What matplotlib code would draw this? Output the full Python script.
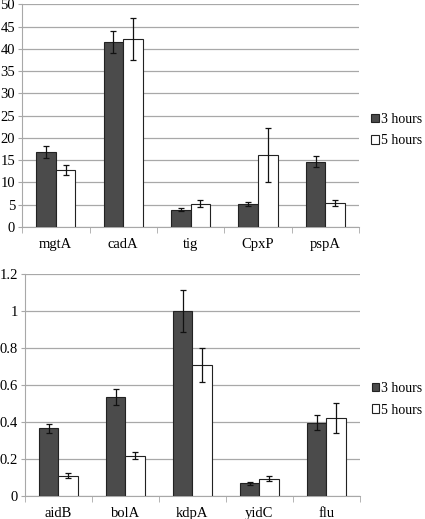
import matplotlib
matplotlib.use("Agg")
import matplotlib.pyplot as plt
from matplotlib.patches import Patch
import numpy as np

# data
genes_top = ["mgtA", "cadA", "tig", "CpxP", "pspA"]
h3_top = [16.9, 41.5, 3.9, 5.2, 14.7]
h3_top_err = [1.3, 2.5, 0.4, 0.5, 1.3]
h5_top = [12.8, 42.2, 5.2, 16.2, 5.4]
h5_top_err = [1.2, 4.8, 0.8, 6.0, 0.6]

genes_bot = ["aidB", "bolA", "kdpA", "yidC", "flu"]
h3_bot = [0.365, 0.535, 1.0, 0.068, 0.397]
h3_bot_err = [0.025, 0.045, 0.115, 0.01, 0.04]
h5_bot = [0.11, 0.218, 0.707, 0.093, 0.423]
h5_bot_err = [0.015, 0.018, 0.09, 0.013, 0.08]

series = ["3 hours", "5 hours"]

plt.rcParams['font.family'] = ['Liberation Serif', 'DejaVu Serif']
plt.rcParams['font.size'] = 10.5

dark = "#4b4b4b"
edge = "#222222"
grid_c = "#a8a8a8"

fig = plt.figure(figsize=(4.25, 5.19), dpi=100)
ax1 = fig.add_axes([0.052, 0.5626, 0.793, 0.429])
ax2 = fig.add_axes([0.0588, 0.0443, 0.788, 0.428])

def draw(ax, genes, a, ae, b, be, ymax, step, fmt):
    x = np.arange(len(genes))
    w = 0.29
    ax.bar(x - w/2, a, w, color=dark, edgecolor=edge, linewidth=0.8, zorder=3)
    ax.bar(x + w/2, b, w, color="white", edgecolor=edge, linewidth=0.8, zorder=3)
    ax.errorbar(x - w/2, a, yerr=ae, fmt="none", ecolor="#111111", elinewidth=0.9, capsize=2.5, capthick=0.9, zorder=4)
    ax.errorbar(x + w/2, b, yerr=be, fmt="none", ecolor="#111111", elinewidth=0.9, capsize=2.5, capthick=0.9, zorder=4)
    ax.set_xlim(-0.5, len(genes) - 0.5)
    ax.set_ylim(0, ymax)
    ticks = np.arange(0, ymax + step/2, step)
    ax.set_yticks(ticks)
    ax.set_yticklabels([fmt(t) for t in ticks])
    ax.set_xticks(x)
    ax.set_xticklabels(genes)
    ax.set_xticks(np.arange(len(genes) + 1) - 0.5, minor=True)
    ax.tick_params(axis="x", which="major", length=0, pad=8)
    ax.tick_params(axis="x", which="minor", length=4, color=grid_c)
    ax.tick_params(axis="y", length=3, color=grid_c, pad=2)
    ax.grid(axis="y", color=grid_c, linewidth=0.9, zorder=0)
    for s in ["top", "right"]:
        ax.spines[s].set_visible(False)
    ax.spines["left"].set_color(grid_c)
    ax.spines["bottom"].set_color(grid_c)
    ax.set_axisbelow(True)
    handles = [Patch(facecolor=dark, edgecolor=edge, linewidth=0.8),
               Patch(facecolor="white", edgecolor=edge, linewidth=0.8)]
    ax.legend(handles, series, loc="center left", bbox_to_anchor=(1.035, 0.435),
              frameon=False, handlelength=0.55, handleheight=0.55, handletextpad=0.15,
              labelspacing=0.6, borderaxespad=0, borderpad=0, fontsize=10)

draw(ax1, genes_top, h3_top, h3_top_err, h5_top, h5_top_err, 50, 5, lambda t: "%d" % t)
draw(ax2, genes_bot, h3_bot, h3_bot_err, h5_bot, h5_bot_err, 1.2, 0.2,
     lambda t: "0" if t == 0 else ("1" if abs(t - 1) < 1e-9 else ("%.1f" % t)))

fig.savefig("out.png", dpi=100)
